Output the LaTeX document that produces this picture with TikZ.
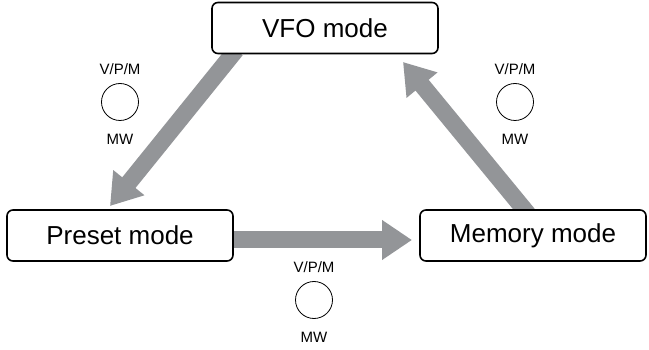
\documentclass[tikz,border=0pt]{standalone}
\usepackage{fontspec}
\setmainfont{Liberation Sans}
\usetikzlibrary{arrows.meta}
\definecolor{arrowgray}{RGB}{147,149,152}
\tikzset{
  modebox/.style={draw=black, line width=1.6pt, rounded corners=6pt, fill=white,
    minimum width=226pt, minimum height=51pt, inner sep=0pt,
    font=\fontsize{26}{30}\selectfont},
  bigarrow/.style={draw=arrowgray, line width=17pt,
    -{Triangle[width=38pt,length=30pt]}, shorten >=0pt},
  keycircle/.style={draw=black, line width=0.8pt, circle, minimum size=37pt, inner sep=0pt},
  keylabel/.style={font=\fontsize{15}{17}\selectfont, inner sep=0pt}
}
\begin{document}
\begin{tikzpicture}[x=1pt,y=-1pt]
\useasboundingbox (0,0) rectangle (649,350);
% arrows first (beneath boxes)
\coordinate (a1s) at (236,50);
\coordinate (a1e) at (110,206);
\coordinate (a2s) at (230,240);
\coordinate (a2e) at (412,240);
\coordinate (a3s) at (528,214);
\coordinate (a3e) at (403,62);
\draw[bigarrow] (a1s) -- (a1e);
\draw[bigarrow] (a2s) -- (a2e);
\draw[bigarrow] (a3s) -- (a3e);
% boxes
\node[modebox] (vfo) at (325,28) {VFO mode};
\node[modebox] (preset) at (120,235.5) {Preset mode};
\node[modebox] (memory) at (533,235.5) {Memory mode};
% keys
\node[keylabel] (l1) at (120,69) {V/P/M};
\node[keycircle] (c1) at (120,102) {};
\node[keylabel] (m1) at (120,139) {MW};
\node[keylabel] (l2) at (515,69) {V/P/M};
\node[keycircle] (c2) at (515,102) {};
\node[keylabel] (m2) at (515,139) {MW};
\node[keylabel] (l3) at (314,267) {V/P/M};
\node[keycircle] (c3) at (314,300) {};
\node[keylabel] (m3) at (314,337) {MW};
\end{tikzpicture}
\end{document}
